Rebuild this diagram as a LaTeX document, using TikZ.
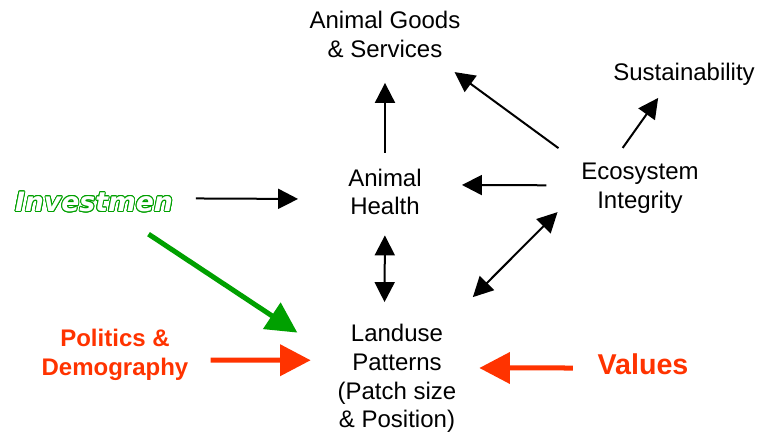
\documentclass[tikz,border=0pt]{standalone}
\usepackage{fontspec}
\setmainfont{Liberation Sans}
\newfontfamily\investfont{DejaVu Sans}
\usepackage[copies]{contour}
\contourlength{0.7pt}
\definecolor{DriverRed}{RGB}{255,51,0}
\definecolor{DriverGreen}{RGB}{0,160,0}
\usetikzlibrary{arrows.meta}
\tikzstyle{concept} = [inner sep=0pt, align=center, font=\fontsize{18}{21.5}\selectfont]
\tikzstyle{driver} = [inner sep=0pt, align=center, text=DriverRed, font=\fontsize{18}{21.5}\selectfont\bfseries]
\tikzstyle{arrow} = [line width=1.5pt, -{Triangle[length=15pt,width=15pt]}]
\tikzstyle{twoway} = [line width=1.5pt, {Triangle[length=15pt,width=15pt]}-{Triangle[length=15pt,width=15pt]}]
\tikzstyle{bigarrow} = [line width=3.75pt, -{Triangle[length=23pt,width=23pt]}]

\begin{document}
\begin{tikzpicture}[x=0.75pt, y=-0.75pt]
  \useasboundingbox (0,0) rectangle (760,432);

  % Concepts
  \node[concept] (goods)   at (385,34.5)  {Animal Goods\\\& Services};
  \node[concept] (health)  at (385,192)   {Animal\\Health};
  \node[concept] (eco)     at (640,188.5) {Ecosystem\\Integrity};
  \node[concept] (sust)    at (684,74)    {Sustainability};
  \node[concept] (landuse) at (397,378.5) {Landuse\\Patterns\\(Patch size\\\& Position)};

  % Drivers
  \node[inner sep=0pt, font=\investfont\fontsize{20}{24}\selectfont\bfseries\itshape]
    (invest) at (94,202.5) {\contour{DriverGreen}{\textcolor{white}{Investmen}}};
  \node[driver] (politics) at (115,355) {Politics \&\\Demography};
  \node[driver, font=\fontsize{21.5}{26}\selectfont\bfseries] (values) at (643,364) {Values};

  % Links
  \draw[arrow] (health.north) -- (goods.south) [shorten <=12pt, shorten >=18.75pt];
  \draw[arrow, shorten <=21pt, shorten >=18pt] (eco.158) -- (goods.-25);
  \draw[arrow, shorten <=14pt, shorten >=11.5pt] (eco.138) -- (sust.214);
  \draw[arrow, shorten <=26pt, shorten >=30pt] (eco.177) -- (health.11);
  \draw[twoway, shorten <=25pt, shorten >=28.5pt] (eco.west) -- (landuse.48);
  \draw[twoway, shorten <=15pt, shorten >=16.5pt] (health.south) -- (landuse.103);
  \draw[arrow, shorten <=17pt, shorten >=37.5pt] (invest.3) -- (health.191);

  % Driver arrows
  \draw[bigarrow, DriverGreen, shorten <=28.5pt, shorten >=36pt] (invest.-25) -- (landuse.162);
  \draw[bigarrow, DriverRed, shorten <=16.5pt, shorten >=20pt] (politics.-4) -- (landuse.163);
  \draw[bigarrow, DriverRed, shorten <=18.4pt, shorten >=17pt] (values.185) -- (landuse.10);
\end{tikzpicture}
\end{document}
